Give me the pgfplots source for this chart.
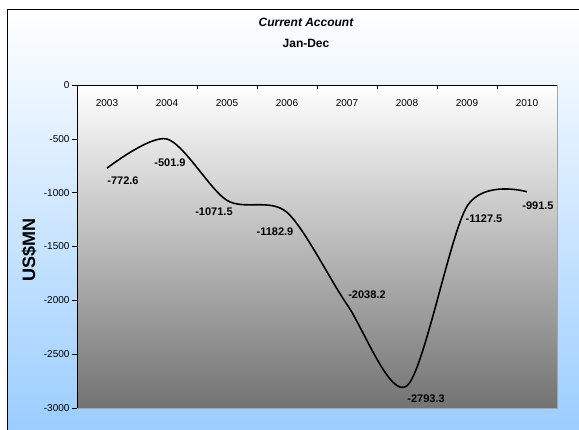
\documentclass[border=0pt]{standalone}
\usepackage{pgfplots}
\pgfplotsset{compat=1.18}
\usepackage{fontspec}
\setmainfont{Liberation Sans}
\definecolor{skyb}{RGB}{153,204,255}
\definecolor{plotbot}{RGB}{115,115,115}
\begin{document}
\begin{tikzpicture}[x=1pt,y=1pt]
\useasboundingbox (0,-429) rectangle (579,0);
\clip (0,-429) rectangle (579,0);
\fill[white] (0,-429) rectangle (579,0);
\shade[top color=white, bottom color=skyb] (7,-9) rectangle (600,-440);
\draw[black, line width=1pt] (7,-440) -- (7,-9) -- (600,-9);
\node[font=\bfseries\itshape\fontsize{12}{14}\selectfont] at (306,-22) {Current Account};
\node[font=\bfseries\fontsize{12}{14}\selectfont] at (306,-43) {Jan-Dec};
\node[rotate=90, font=\bfseries\fontsize{18}{20}\selectfont] at (29,-250) {US\$MN};
\begin{axis}[
  at={(77pt,-408pt)}, anchor=south west,
  scale only axis, width=480pt, height=323pt,
  xmin=-0.5, xmax=7.5, ymin=-3000, ymax=0,
  axis background/.style={shade, top color=white, bottom color=plotbot},
  axis line style={draw=gray!70},
  xtick={0,...,7},
  xticklabels={2003,2004,2005,2006,2007,2008,2009,2010},
  xticklabel pos=upper,
  x tick style={draw=none},
  xticklabel style={anchor=center, yshift=-18pt, font=\fontsize{10}{12}\selectfont},
  ytick={-3000,-2500,-2000,-1500,-1000,-500,0},
  yticklabels={-3000,-2500,-2000,-1500,-1000,-500,0},
  yticklabel style={font=\fontsize{10}{12}\selectfont, xshift=-4pt},
  ytick pos=left,
  y tick style={draw=none},
  clip=false,
]
\addplot[black, line width=1.6pt, smooth, tension=0.5, mark=none] coordinates {
 (0,-772.6) (1,-501.9) (2,-1071.5) (3,-1182.9) (4,-2038.2) (5,-2793.3) (6,-1127.5) (7,-991.5)
};
\addplot[draw=none, mark=none, nodes near coords, point meta=explicit symbolic,
  every node near coord/.append style={anchor=center, inner sep=0pt, font=\bfseries\fontsize{11}{13}\selectfont}]
 coordinates {
 (0.267,-892) [-772.6]
 (1.05,-724) [-501.9]
 (1.783,-1180) [-1071.5]
 (2.8,-1365) [-1182.9]
 (4.333,-1950) [-2038.2]
 (5.317,-2916) [-2793.3]
 (6.283,-1245) [-1127.5]
 (7.183,-1124) [-991.5]
};
\draw[black] (rel axis cs:0,0) -- (rel axis cs:0,1) -- (rel axis cs:1,1);
\draw[black] (rel axis cs:0,0) -- ++(-5pt,0pt);
\draw[black] (rel axis cs:0,0.16667) -- ++(-5pt,0pt);
\draw[black] (rel axis cs:0,0.33333) -- ++(-5pt,0pt);
\draw[black] (rel axis cs:0,0.5) -- ++(-5pt,0pt);
\draw[black] (rel axis cs:0,0.66667) -- ++(-5pt,0pt);
\draw[black] (rel axis cs:0,0.83333) -- ++(-5pt,0pt);
\draw[black] (rel axis cs:0,1) -- ++(-5pt,0pt);
\draw[black] (rel axis cs:0.125,1) -- ++(0pt,-4pt);
\draw[black] (rel axis cs:0.25,1) -- ++(0pt,-4pt);
\draw[black] (rel axis cs:0.375,1) -- ++(0pt,-4pt);
\draw[black] (rel axis cs:0.5,1) -- ++(0pt,-4pt);
\draw[black] (rel axis cs:0.625,1) -- ++(0pt,-4pt);
\draw[black] (rel axis cs:0.75,1) -- ++(0pt,-4pt);
\draw[black] (rel axis cs:0.875,1) -- ++(0pt,-4pt);
\end{axis}
\end{tikzpicture}
\end{document}
